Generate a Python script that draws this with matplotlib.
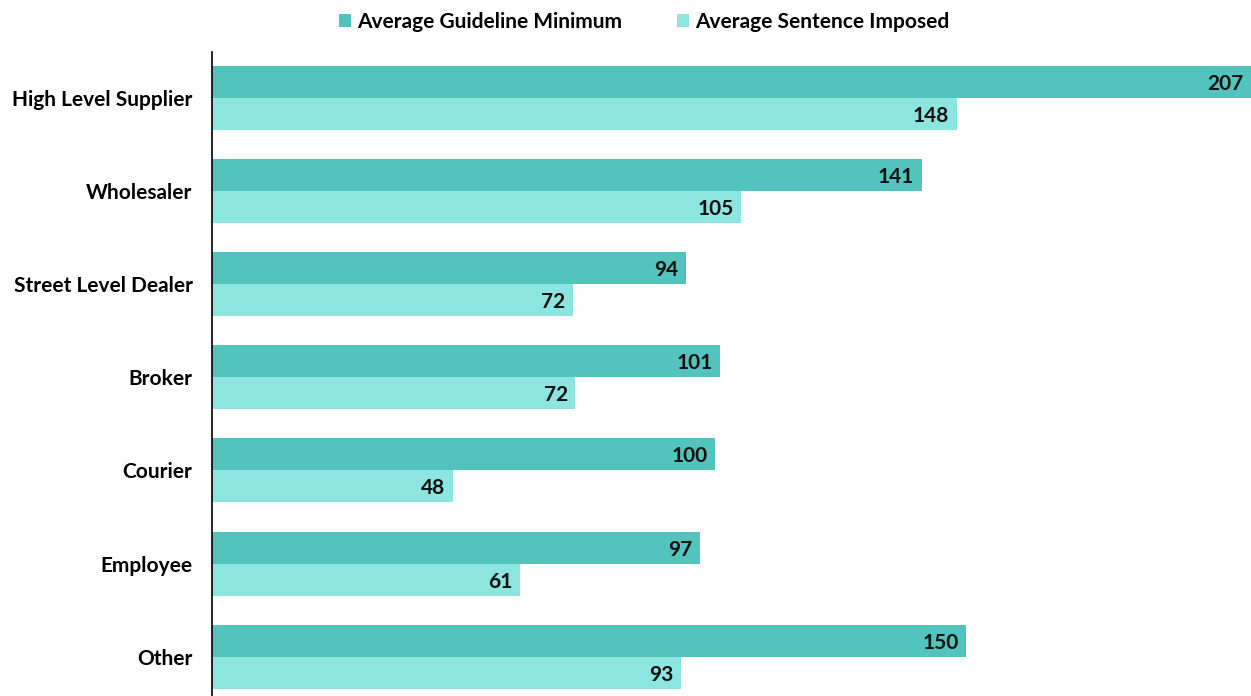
import matplotlib.pyplot as plt
import numpy as np

plt.rcParams['font.family'] = ['Lato', 'DejaVu Sans']

categories = ["High Level Supplier", "Wholesaler", "Street Level Dealer",
              "Broker", "Courier", "Employee", "Other"]
guideline_min = [207, 141.4, 94.4, 101.2, 100.2, 97.2, 150.2]
sentence_imposed = [148.4, 105.4, 71.9, 72.4, 48.0, 61.4, 93.4]
series_names = ["Average Guideline Minimum", "Average Sentence Imposed"]

DARK = "#52C3BD"
LIGHT = "#8DE5DF"

fig = plt.figure(figsize=(12.51, 6.96), dpi=100)
ax = fig.add_axes([212 / 1251, 0, 1 - 212 / 1251, (696 - 52) / 696])

y = np.arange(len(categories))
h = 0.343
b1 = ax.barh(y - h / 2, guideline_min, height=h, color=DARK, label=series_names[0])
b2 = ax.barh(y + h / 2, sentence_imposed, height=h, color=LIGHT, label=series_names[1])

for bars, vals in ((b1, guideline_min), (b2, sentence_imposed)):
    for bar, v in zip(bars, vals):
        ax.text(v - 1.5, bar.get_y() + bar.get_height() / 2 + 0.02, f"{round(v)}",
                ha="right", va="center", fontsize=15, fontweight="bold",
                color="#111111")

ax.set_xlim(0, 207)
ax.set_ylim(len(categories) - 1 + 0.42, -0.49)
ax.set_yticks(y)
ax.set_yticklabels(categories, fontsize=15, fontweight="bold")
ax.tick_params(axis="y", length=0, pad=14)
ax.set_xticks([])
for s in ("top", "right", "bottom"):
    ax.spines[s].set_visible(False)
ax.spines["left"].set_linewidth(1.2)

fig.legend(handles=[b1, b2], loc="upper center", bbox_to_anchor=(0.515, 1.01),
           ncol=2, frameon=False, handlelength=0.6, handleheight=0.6,
           handletextpad=0.3, columnspacing=2.6,
           prop={"size": 15, "weight": "bold"})

fig.savefig("out.png", dpi=100)
